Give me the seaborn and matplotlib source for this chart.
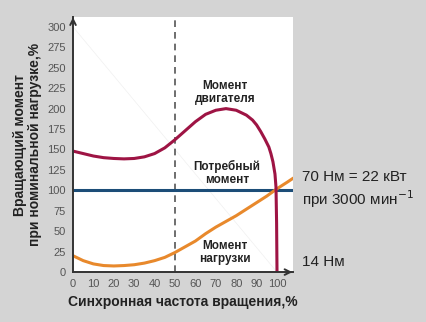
import matplotlib
matplotlib.use("Agg")
import matplotlib.pyplot as plt
import seaborn as sns
import pandas as pd

# ---- data ----
speed_motor = [0, 5, 10, 15, 20, 25, 30, 35, 40, 45, 50, 55, 60, 65, 70, 75, 80, 85,
               88, 90, 92, 94, 96, 97, 98, 99, 99.5, 99.8, 100]
torque_motor = [148, 145, 142, 140, 139, 138.5, 139, 141, 145, 152, 162, 173, 184, 193,
                198, 200, 198, 192, 186, 180, 172, 163, 153, 145, 135, 120, 104, 60, 0]

speed_load = [0, 5, 10, 15, 20, 25, 30, 35, 40, 45, 50, 55, 60, 65, 70, 75, 80, 85,
              90, 95, 100, 105, 108]
torque_load = [20, 14, 10, 8, 7.5, 8, 9, 11, 14, 18, 24, 31, 38, 47, 55, 62, 69, 77,
               85, 93, 102, 110, 115]

speed_req = [0, 108]
torque_req = [100, 100]

speed_diag = [0, 100]
torque_diag = [300, 0]

x_ticks = list(range(0, 101, 10))
y_ticks = list(range(0, 301, 25))

df_motor = pd.DataFrame({"x": speed_motor, "y": torque_motor})
df_load = pd.DataFrame({"x": speed_load, "y": torque_load})
df_req = pd.DataFrame({"x": speed_req, "y": torque_req})
df_diag = pd.DataFrame({"x": speed_diag, "y": torque_diag})

sns.set_style("white")
plt.rcParams["font.family"] = ["Liberation Sans", "DejaVu Sans"]

bg = "#d4d4d4"
fig = plt.figure(figsize=(4.27, 3.22), dpi=100, facecolor=bg)
ax = fig.add_axes([0.171, 0.155, 0.515, 0.792])
ax.set_facecolor("white")

sns.lineplot(data=df_diag, x="x", y="y", ax=ax, color="#f0f0f0", lw=0.5, sort=False)
ax.axvline(50, color="#555555", lw=1.2, ls=(0, (4, 3)))
sns.lineplot(data=df_req, x="x", y="y", ax=ax, color="#1c4d78", lw=2.2, sort=False)
sns.lineplot(data=df_load, x="x", y="y", ax=ax, color="#e8892c", lw=2.2, sort=False)
sns.lineplot(data=df_motor, x="x", y="y", ax=ax, color="#9e1444", lw=2.2, sort=False)

ax.set_xlim(0, 107.8)
ax.set_ylim(0, 312)
ax.set_xticks(x_ticks)
ax.set_yticks(y_ticks)
ax.tick_params(axis="both", length=0, labelsize=8, labelcolor="#555555", pad=5)

for s in ["top", "right"]:
    ax.spines[s].set_visible(False)
for s in ["left", "bottom"]:
    ax.spines[s].set_color("#333333")
    ax.spines[s].set_linewidth(1.4)

# axis arrows
ax.annotate("", xy=(0, 1.01), xytext=(0, 0.97), xycoords="axes fraction",
            arrowprops=dict(arrowstyle="->", color="#333333", lw=1.4), annotation_clip=False)
ax.annotate("", xy=(1.01, 0), xytext=(0.97, 0), xycoords="axes fraction",
            arrowprops=dict(arrowstyle="->", color="#333333", lw=1.4), annotation_clip=False)

ax.set_xlabel("Синхронная частота вращения,%", fontsize=10, fontweight="bold",
              color="#222222", labelpad=4)
ax.set_ylabel("Вращающий момент\nпри номинальной нагрузке,%", fontsize=10,
              fontweight="bold", color="#222222", labelpad=4, linespacing=1.1)

ax.text(74.5, 220, "Момент\nдвигателя", ha="center", va="center", fontsize=8.5,
        fontweight="bold", color="#222222", linespacing=1.15)
ax.text(75.5, 121, "Потребный\nмомент", ha="center", va="center", fontsize=8.5,
        fontweight="bold", color="#222222", linespacing=1.15)
ax.text(74.5, 24, "Момент\nнагрузки", ha="center", va="center", fontsize=8.5,
        fontweight="bold", color="#222222", linespacing=1.15)

fig.text(302 / 427, 1 - 177 / 322, "70 Нм = 22 кВт", ha="left", va="center",
         fontsize=11, color="#222222")
fig.text(302 / 427, 1 - 199 / 322, "при 3000 мин$^{-1}$", ha="left", va="center",
         fontsize=11, color="#222222")
fig.text(302 / 427, 1 - 262 / 322, "14 Нм", ha="left", va="center",
         fontsize=11, color="#222222")

fig.savefig("out.png", dpi=100, facecolor=bg)
